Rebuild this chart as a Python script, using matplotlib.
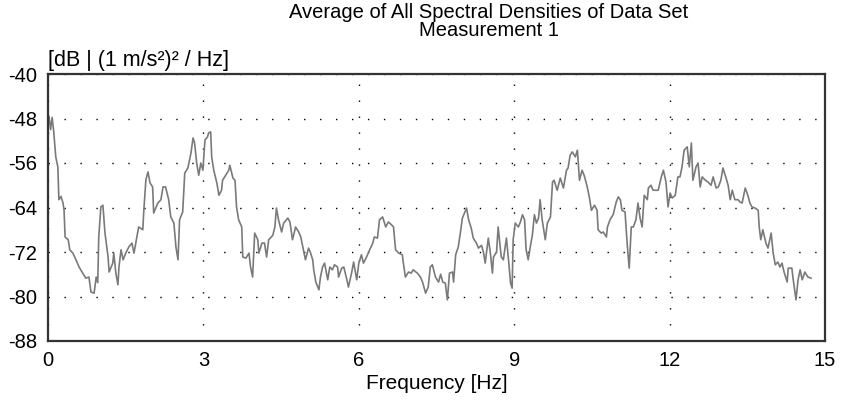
import matplotlib
matplotlib.use("Agg")
import matplotlib.pyplot as plt
import numpy as np

plt.rcParams["font.family"] = ["Liberation Sans", "DejaVu Sans"]
plt.rcParams["axes.unicode_minus"] = False

# frequency [Hz] and averaged spectral density [dB]
freq = [
    0.00, 0.02, 0.05, 0.08, 0.11, 0.15, 0.19, 0.21, 0.25, 0.29, 0.31, 0.33, 0.39, 0.42, 0.48,
    0.54, 0.60, 0.67, 0.73, 0.79, 0.83, 0.89, 0.93, 0.96, 0.98, 1.02, 1.06, 1.10, 1.16, 1.18,
    1.25, 1.27, 1.31, 1.35, 1.37, 1.41, 1.45, 1.50, 1.56, 1.62, 1.66, 1.72, 1.75, 1.83, 1.85,
    1.89, 1.93, 1.97, 2.02, 2.04, 2.12, 2.18, 2.22, 2.27, 2.33, 2.37, 2.43, 2.47, 2.51,
    2.54, 2.60, 2.64, 2.70, 2.76, 2.80, 2.83, 2.87, 2.91, 2.95, 2.99, 3.03, 3.08, 3.10, 3.14,
    3.16, 3.20, 3.26, 3.30, 3.35, 3.37, 3.43, 3.49, 3.51, 3.57, 3.61, 3.64, 3.68, 3.74, 3.76,
    3.82, 3.88, 3.91, 3.95, 3.99, 4.05, 4.07, 4.13, 4.18, 4.22, 4.26, 4.34, 4.38, 4.41, 4.45,
    4.51, 4.55, 4.63, 4.67, 4.72, 4.78, 4.84, 4.88, 4.92, 4.97,
    5.03, 5.07, 5.11, 5.13, 5.17, 5.23, 5.26, 5.30, 5.34, 5.40, 5.44, 5.49, 5.53, 5.59, 5.61,
    5.67, 5.71, 5.77, 5.80, 5.86, 5.90, 5.96, 6.00, 6.05, 6.09, 6.15, 6.21, 6.27, 6.30, 6.36,
    6.40, 6.46, 6.52, 6.57, 6.63, 6.67, 6.71, 6.77, 6.84, 6.86, 6.90, 6.96, 7.01, 7.05, 7.13,
    7.19, 7.23, 7.29, 7.34, 7.38, 7.42, 7.48,
    7.54, 7.58, 7.62, 7.67, 7.71, 7.75, 7.81, 7.83, 7.87, 7.92, 7.96, 8.00, 8.08, 8.12, 8.17,
    8.21, 8.27, 8.31, 8.37, 8.41, 8.44, 8.50, 8.54, 8.58, 8.60, 8.66, 8.69, 8.75, 8.79, 8.85,
    8.89, 8.93, 8.96, 8.98, 9.02, 9.08, 9.12, 9.16, 9.20, 9.23, 9.27, 9.31, 9.35, 9.39, 9.43,
    9.47, 9.50, 9.54, 9.60, 9.64, 9.70, 9.74, 9.77, 9.83, 9.89, 9.95, 10.01,
    10.04, 10.08, 10.12, 10.18, 10.22, 10.26, 10.31, 10.35, 10.41, 10.45, 10.49, 10.55, 10.60,
    10.62, 10.68, 10.72, 10.78, 10.80, 10.85, 10.91, 10.97, 11.01, 11.05, 11.08, 11.14, 11.18,
    11.22, 11.26, 11.30, 11.35, 11.39, 11.43, 11.47, 11.51, 11.57, 11.59, 11.64, 11.68, 11.74,
    11.78, 11.84, 11.88, 11.93, 11.97, 12.01, 12.05, 12.11, 12.16, 12.20, 12.24, 12.28, 12.34,
    12.38, 12.42, 12.45, 12.51,
    12.55, 12.59, 12.63, 12.69, 12.74, 12.80, 12.84, 12.90, 12.94, 12.99, 13.03, 13.09, 13.13,
    13.17, 13.21, 13.26, 13.32, 13.36, 13.40, 13.46, 13.51, 13.55, 13.59, 13.65, 13.71, 13.73,
    13.76, 13.80, 13.86, 13.90, 13.96, 14.00, 14.04, 14.09, 14.13, 14.17, 14.21, 14.27, 14.29,
    14.36, 14.38, 14.44, 14.48, 14.52, 14.56, 14.61, 14.67, 14.73,
]
level_db = [
    -48.6, -47.6, -50.0, -47.8, -50.3, -54.9, -56.7, -62.6, -62.0, -63.2, -64.5, -69.3, -69.8, -71.6, -72.2,
    -73.4, -74.7, -75.8, -76.7, -76.5, -79.2, -79.4, -76.5, -77.5, -69.3, -63.9, -63.6, -68.6, -72.9, -75.6,
    -74.0, -72.2, -75.8, -77.9, -74.7, -71.6, -73.4, -72.2, -71.1, -70.4, -72.2, -69.0, -67.5, -68.0, -64.5,
    -59.0, -57.6, -59.6, -60.3, -65.0, -63.2, -62.6, -60.3, -60.3, -62.6, -65.7, -66.8, -71.1, -73.4,
    -66.2, -64.8, -57.8, -56.9, -54.2, -51.5, -52.4, -56.0, -58.2, -56.0, -57.3, -51.9, -51.3, -50.6, -50.4,
    -54.9, -57.3, -59.6, -61.8, -60.9, -59.1, -58.2, -57.3, -56.4, -58.7, -59.1, -63.9, -66.2, -67.5, -72.9,
    -73.1, -72.2, -74.7, -76.5, -68.6, -69.8, -72.2, -70.4, -70.4, -72.9, -69.8, -69.0, -67.5, -64.1, -66.2,
    -68.4, -66.8, -65.9, -66.6, -69.8, -67.5, -68.4, -69.3, -71.1, -73.4,
    -71.3, -72.2, -73.4, -75.2, -77.4, -78.8, -76.5, -74.7, -74.0, -77.0, -74.7, -75.2, -74.3, -74.7, -76.5,
    -74.9, -74.7, -77.0, -78.3, -75.8, -73.8, -77.0, -74.0, -72.5, -74.0, -72.9, -71.6, -70.4, -69.3, -69.5,
    -66.2, -65.7, -67.5, -66.6, -67.1, -67.5, -71.6, -72.2, -72.5, -74.0, -76.5, -75.6, -75.8, -75.2, -75.8,
    -76.5, -77.4, -79.4, -78.3, -74.7, -74.3, -76.5,
    -77.4, -76.0, -77.4, -77.6, -80.6, -75.8, -75.6, -77.4, -72.5, -71.1, -68.6, -65.9, -64.1, -66.2, -67.7,
    -69.5, -70.4, -71.3, -70.8, -72.2, -74.0, -69.5, -72.2, -75.8, -72.9, -72.0, -67.5, -72.9, -73.4, -69.5,
    -73.4, -77.6, -78.5, -69.8, -66.8, -67.5, -66.6, -65.3, -66.2, -71.6, -73.4, -71.1, -69.0, -65.3, -66.8,
    -65.9, -62.6, -66.2, -69.8, -66.8, -65.7, -59.4, -59.1, -60.9, -58.7, -60.5, -57.3,
    -56.9, -54.6, -54.0, -54.9, -53.7, -59.1, -57.3, -58.2, -60.3, -62.1, -64.5, -63.6, -64.5,
    -68.0, -68.6, -68.4, -69.3, -67.5, -66.2, -65.3, -63.0, -62.1, -62.6, -64.5, -64.8, -70.4,
    -74.9, -67.5, -67.5, -66.2, -63.2, -65.9, -67.5, -61.8, -62.6, -60.5, -60.0, -60.9, -60.9,
    -60.9, -58.5, -57.3, -59.4, -63.9, -61.4, -62.3, -61.8, -58.5, -58.5, -56.7, -53.7, -53.1,
    -56.7, -52.4, -59.1, -56.7,
    -56.0, -60.3, -58.5, -59.1, -59.4, -60.0, -58.5, -60.5, -60.3, -59.1, -56.9, -58.7, -60.0,
    -62.6, -60.9, -62.6, -62.6, -63.0, -63.2, -60.5, -61.8, -63.2, -63.9, -64.1, -64.5, -67.5,
    -69.8, -68.0, -70.4, -71.3, -68.6, -72.2, -74.3, -73.8, -74.7, -74.0, -75.6, -77.4, -74.9,
    -74.9, -76.5, -80.6, -77.0, -75.2, -77.0, -75.6, -76.5, -76.7,
]

x_ticks = [0, 3, 6, 9, 12, 15]
y_ticks = [-88, -80, -72, -64, -56, -48, -40]

fig = plt.figure(figsize=(8.41, 4.03), dpi=100)
ax = fig.add_axes([48 / 841, 1 - 341 / 403, 777 / 841, 267 / 403])

ax.plot(freq, level_db, color="#7a7a7a", lw=1.2)

ax.set_xlim(0, 15)
ax.set_ylim(-88, -40)
ax.set_xticks(x_ticks)
ax.set_yticks(y_ticks)
ax.tick_params(length=0, labelsize=14.5, colors="black")
ax.tick_params(axis="y", pad=8)
ax.tick_params(axis="x", pad=7)
ax.grid(True, color="black", lw=1.0, linestyle=(0, (1, 10.5)))

for sp in ax.spines.values():
    sp.set_linewidth(1.6)
    sp.set_color("#333333")

ax.set_xlabel("Frequency [Hz]", fontsize=15, labelpad=3)
ax.text(0, 1.012, "[dB | (1 m/s²)² / Hz]", transform=ax.transAxes,
        fontsize=15.5, ha="left", va="bottom")

fig.text(489 / 841, 1 - 12 / 403, "Average of All Spectral Densities of Data Set",
         ha="center", va="center", fontsize=14.5)
fig.text(489 / 841, 1 - 31 / 403, "Measurement 1", ha="center", va="center", fontsize=14.5)

fig.savefig("out.png", dpi=100)
